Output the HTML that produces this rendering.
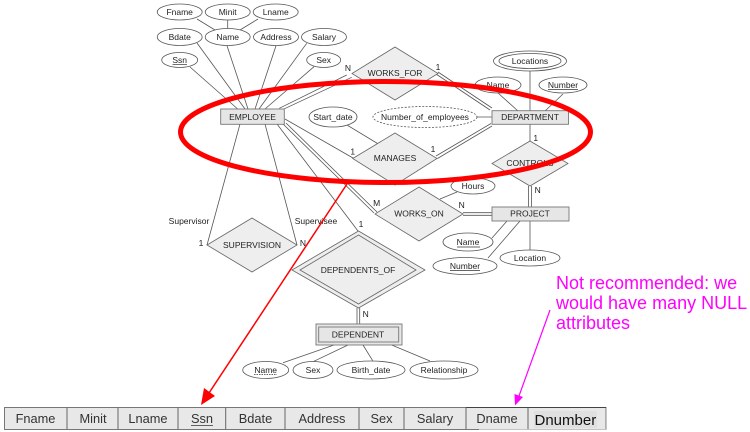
<!DOCTYPE html>
<html lang="en">
<head>
<meta charset="utf-8">
<title>ER diagram with single-table mapping</title>
<style>
html,body{margin:0;padding:0;background:#fff;width:750px;height:432px;overflow:hidden}
svg{display:block}
text{font-family:"Liberation Sans",sans-serif}
.soft{filter:blur(.3px)}
.t{font-size:8.5px;fill:#222;text-anchor:middle;dominant-baseline:central}
.l{stroke:#555;stroke-width:.8;fill:none}
.g{stroke:#aaa;stroke-width:1.6;fill:none}
.e{fill:#fff;stroke:#555;stroke-width:.8}
.d{fill:#eee;stroke:#666;stroke-width:.8}
.r{fill:#e6e6e6;stroke:#777;stroke-width:.9}
.u{stroke:#333;stroke-width:.7}
.c{font-size:12.8px;fill:#333;text-anchor:middle}
.m{font-size:18px;fill:#ff00ff}
</style>
</head>
<body>
<svg width="750" height="432" viewBox="0 0 750 432" xmlns="http://www.w3.org/2000/svg">
<g class="soft">
<g>
<path class="l" d="M197 19L215 30M227.7 20V29M258 19L240 30"/>
<path class="l" d="M190 67L237.7 109M197 43L245 109M227 45.7L248 109M276 45.7L255 109M306.7 43.3L259 109M314 66.7L265 109"/>
<path class="l" d="M279.3 108.3L346.7 75M283.3 109.3L351.7 77.3M438 72L492 108M436 74L490 110"/>
<path class="l" d="M347 125L380 145M285 119L353 158"/>
<path class="l" d="M240 124L207 245M265 124L297 245"/>
<path class="l" d="M283 124L374 213M286 123L377 212M277 124L358 231"/>
<path class="l" d="M436 156L491 123.5M437.5 158.5L492 126"/>
<path class="g" d="M477 117H492M530 71V111M530 124V141M530 221V250"/>
<path class="l" d="M498 93L518 111M563 94L545 111"/>
<path class="l" d="M528.5 186V207M531.5 186V207M463 212.7H492M463 215.3H492"/>
<path class="l" d="M457 192L440 199M507 221L492 238M520 221L488 258"/>
<path class="l" d="M357 308V324M359.7 308V324"/>
<path class="l" d="M334 345L283 362.7M348 345L313 361.7M363 345L372.7 360.7M391.7 345L430 361"/>
</g>

<g><ellipse class="e" cx="179.7" cy="12" rx="22.5" ry="8"/><text class="t" x="179.7" y="12">Fname</text></g>
<g><ellipse class="e" cx="227.7" cy="12" rx="22.5" ry="8"/><text class="t" x="227.7" y="12">Minit</text></g>
<g><ellipse class="e" cx="275.7" cy="12" rx="22.5" ry="8"/><text class="t" x="275.7" y="12">Lname</text></g>
<g><ellipse class="e" cx="179.7" cy="37" rx="22.5" ry="8.5"/><text class="t" x="179.7" y="37">Bdate</text></g>
<g><ellipse class="e" cx="227.7" cy="37" rx="22.5" ry="8.5"/><text class="t" x="227.7" y="37">Name</text></g>
<g><ellipse class="e" cx="276" cy="37" rx="22.5" ry="8.5"/><text class="t" x="276" y="37">Address</text></g>
<g><ellipse class="e" cx="324" cy="37" rx="22.5" ry="8.5"/><text class="t" x="324" y="37">Salary</text></g>
<g><ellipse class="e" cx="179.7" cy="60" rx="18" ry="7.5"/><text class="t" x="179.7" y="60">Ssn</text><line class="u" x1="172.5" x2="187" y1="64.5" y2="64.5"/></g>
<g><ellipse class="e" cx="323.7" cy="60" rx="17" ry="7.5"/><text class="t" x="323.7" y="60">Sex</text></g>

<g><rect class="r" x="220.7" y="109" width="63.6" height="15.3"/><text class="t" x="252.5" y="117">EMPLOYEE</text></g>
<g><rect class="r" x="492" y="110.7" width="76.5" height="13.6"/><text class="t" x="530" y="117">DEPARTMENT</text></g>
<g><rect class="r" x="492" y="207" width="77" height="14"/><text class="t" x="530" y="213.5">PROJECT</text></g>
<g><rect class="r" x="316" y="324" width="86" height="21"/><rect class="r" x="318.7" y="327" width="80" height="15"/><text class="t" x="358" y="334.5">DEPENDENT</text></g>

<g><polygon class="d" points="395,47 438,73.5 395,100 352,73.5"/><text class="t" x="395" y="73">WORKS_FOR</text></g>
<g><polygon class="d" points="395,133 437,158.5 395,185 352.7,158.5"/><text class="t" x="395" y="158">MANAGES</text></g>
<g><polygon class="d" points="530,141 568,163.5 530,186 492,163.5"/><text class="t" x="530" y="163">CONTROLS</text></g>
<g><polygon class="d" points="419,187 463,214 419,241 375,214"/><text class="t" x="419" y="213.5">WORKS_ON</text></g>
<g><polygon class="d" points="252,218 297,245 252,272 207,245"/><text class="t" x="252" y="245">SUPERVISION</text></g>
<g><polygon class="d" points="358.5,231 425,270 358.5,308 292,270"/><polygon class="d" points="358.5,235 416,270 358.5,304 300,270"/><text class="t" x="358" y="270">DEPENDENTS_OF</text></g>

<g><ellipse class="e" cx="333" cy="117" rx="24" ry="10"/><text class="t" x="333" y="117">Start_date</text></g>
<g><ellipse class="e" stroke-dasharray="2 1.5" cx="425" cy="117" rx="52" ry="10.5"/><text class="t" x="425" y="117">Number_of_employees</text></g>
<g><ellipse class="e" cx="530" cy="61" rx="36.5" ry="10"/><ellipse class="e" cx="530" cy="61" rx="31" ry="7.5"/><text class="t" x="530" y="61">Locations</text></g>
<g><ellipse class="e" cx="498" cy="85" rx="23" ry="8"/><text class="t" x="498" y="85">Name</text><line class="u" x1="487" x2="509" y1="89.5" y2="89.5"/></g>
<g><ellipse class="e" cx="563" cy="85" rx="24" ry="8"/><text class="t" x="563" y="85">Number</text><line class="u" x1="548" x2="578" y1="89.5" y2="89.5"/></g>
<g><ellipse class="e" cx="473" cy="186" rx="22" ry="8"/><text class="t" x="473" y="186">Hours</text></g>
<g><ellipse class="e" cx="468" cy="242" rx="25" ry="9"/><text class="t" x="468" y="242">Name</text><line class="u" x1="457" x2="480" y1="247" y2="247"/></g>
<g><ellipse class="e" cx="465" cy="266" rx="32" ry="8.5"/><text class="t" x="465" y="266">Number</text><line class="u" x1="450" x2="480" y1="270.5" y2="270.5"/></g>
<g><ellipse class="e" cx="530" cy="258" rx="30" ry="8"/><text class="t" x="530" y="258">Location</text></g>
<g><ellipse class="e" cx="265.7" cy="370" rx="23" ry="8.5"/><text class="t" x="265.7" y="370">Name</text><line class="u" stroke-dasharray="1.5 1" x1="254" x2="277" y1="374.5" y2="374.5"/></g>
<g><ellipse class="e" cx="313" cy="370" rx="20" ry="8.5"/><text class="t" x="313" y="370">Sex</text></g>
<g><ellipse class="e" cx="371" cy="370" rx="34" ry="9"/><text class="t" x="371" y="370">Birth_date</text></g>
<g><ellipse class="e" cx="444" cy="370" rx="34" ry="9"/><text class="t" x="444" y="370">Relationship</text></g>

<g>
<text class="t" x="348" y="68">N</text>
<text class="t" x="438" y="67">1</text>
<text class="t" x="352.7" y="151.7">1</text>
<text class="t" x="433" y="149">1</text>
<text class="t" x="535.7" y="138">1</text>
<text class="t" x="537.7" y="190">N</text>
<text class="t" x="376.7" y="203">M</text>
<text class="t" x="461.7" y="205">N</text>
<text class="t" x="361" y="224">1</text>
<text class="t" x="201" y="243">1</text>
<text class="t" x="303" y="243">N</text>
<text class="t" x="365.7" y="314">N</text>
<text class="t" x="189" y="221">Supervisor</text>
<text class="t" x="316" y="221">Supervisee</text>
</g>
</g>

<ellipse cx="385.5" cy="132" rx="205" ry="50.5" fill="none" stroke="#ff0000" stroke-width="5"/>

<g>
<line x1="347" y1="184" x2="209" y2="393" stroke="#ff0000" stroke-width="1.5"/>
<polygon points="201,405 204,388 215,396" fill="#ff0000"/>
</g>
<g>
<line x1="550" y1="310" x2="519" y2="396" stroke="#ff00ff" stroke-width="1.2"/>
<polygon points="515,405.5 514.5,394 523,397" fill="#ff00ff"/>
</g>

<g>
<text class="m" x="556" y="289">Not recommended: we</text>
<text class="m" x="556" y="309">would have many NULL</text>
<text class="m" x="556" y="329">attributes</text>
</g>

<g class="soft">
<rect x="4.5" y="407.5" width="601.5" height="22" fill="#e8e8e8" stroke="#777" stroke-width="1"/>
<path d="M67 407.5V429.5M118 407.5V429.5M178 407.5V429.5M225.7 407.5V429.5M285 407.5V429.5M359 407.5V429.5M404 407.5V429.5M466 407.5V429.5M528 407.5V429.5" stroke="#666" stroke-width="1"/>
<path d="M466 407.5H606" stroke="#444" stroke-width="1"/>
<path d="M479 429.5H606.5M606.5 407.5V429.5" stroke="#c4c4c4" stroke-width="1"/>
<text class="c" x="35.5" y="423">Fname</text>
<text class="c" x="93" y="423">Minit</text>
<text class="c" x="148" y="423">Lname</text>
<text class="c" x="202" y="423">Ssn</text>
<line class="u" x1="191" x2="213" y1="425.5" y2="425.5"/>
<text class="c" x="255.5" y="423">Bdate</text>
<text class="c" x="322" y="423">Address</text>
<text class="c" x="381.5" y="423">Sex</text>
<text class="c" x="435" y="423">Salary</text>
<text class="c" x="497" y="423">Dname</text>
<rect x="534" y="411" width="63" height="17" fill="#e0e0e0"/>
<text x="534.5" y="425" font-size="15" fill="#111">Dnumber</text>
</g>
</svg>
</body>
</html>
